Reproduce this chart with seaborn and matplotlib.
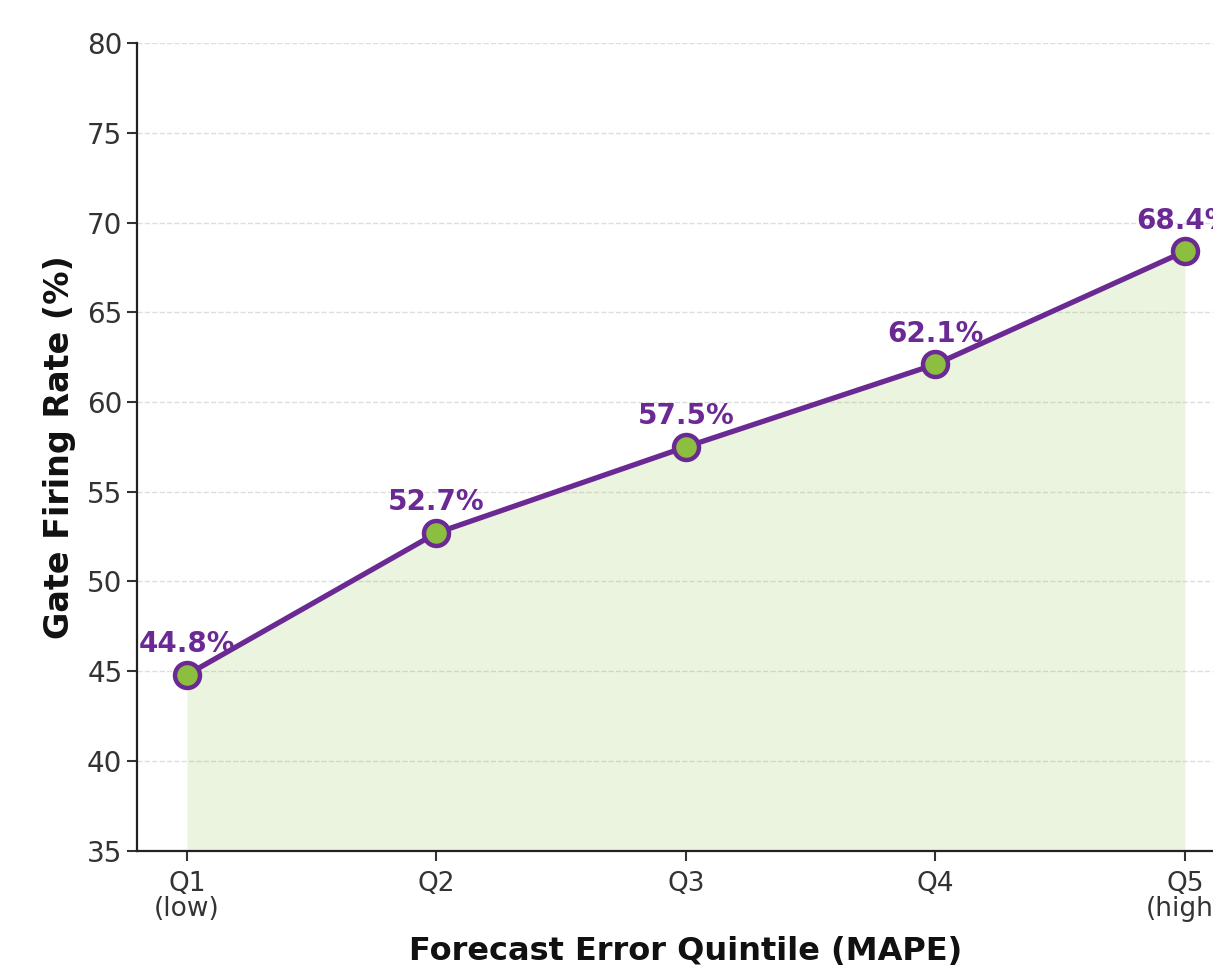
import matplotlib.pyplot as plt
import pandas as pd
import seaborn as sns

# data
quintiles = ["Q1\n(low)", "Q2", "Q3", "Q4", "Q5\n(high)"]
gate_rate = [44.8, 52.7, 57.5, 62.1, 68.4]

line_color = "#6b2a93"
marker_color = "#8cbf3f"
fill_color = "#8cbf3f"

df = pd.DataFrame({"pos": range(len(quintiles)), "rate": gate_rate})

sns.set_theme(style="ticks")
plt.rcParams["font.family"] = ["DejaVu Sans"]

fig = plt.figure(figsize=(12.13, 9.80), dpi=100)
# axes runs past the right edge, as in the cropped reference
ax = fig.add_axes([0.113, 0.132, 0.905, 0.824])

ax.fill_between(df["pos"], df["rate"], 35, color=fill_color, alpha=0.17, linewidth=0, zorder=1)
sns.lineplot(data=df, x="pos", y="rate", ax=ax, color=line_color, linewidth=3.8,
             marker="o", markersize=18, markerfacecolor=marker_color,
             markeredgecolor=line_color, markeredgewidth=3.2, zorder=3)

for x, y in zip(df["pos"], df["rate"]):
    ax.annotate(f"{y:.1f}%", (x, y), xytext=(0, 12), textcoords="offset points",
                ha="center", va="bottom", fontsize=20, fontweight="bold", color=line_color)

ax.set_xlim(-0.2, 4.2)
ax.set_ylim(35, 80)
ax.set_yticks(range(35, 81, 5))
ax.set_xticks(range(len(quintiles)))
ax.set_xticklabels(quintiles, fontsize=19, linespacing=0.95)
ax.tick_params(axis="y", labelsize=20)
ax.tick_params(axis="x", pad=8)
ax.tick_params(axis="both", length=7, width=1.5, colors="#333333")
ax.grid(axis="y", linestyle="--", color="#d0d0d0", linewidth=1, alpha=0.7)

ax.set_xlabel("Forecast Error Quintile (MAPE)", fontsize=23, fontweight="bold", labelpad=10, color="#111111")
ax.set_ylabel("Gate Firing Rate (%)", fontsize=24, fontweight="bold", labelpad=8, color="#111111")

ax.spines["top"].set_visible(False)
ax.spines["right"].set_visible(False)
ax.spines["left"].set_linewidth(1.6)
ax.spines["bottom"].set_linewidth(1.6)
ax.spines["left"].set_color("#222222")
ax.spines["bottom"].set_color("#222222")

fig.savefig("out.png", dpi=100)
